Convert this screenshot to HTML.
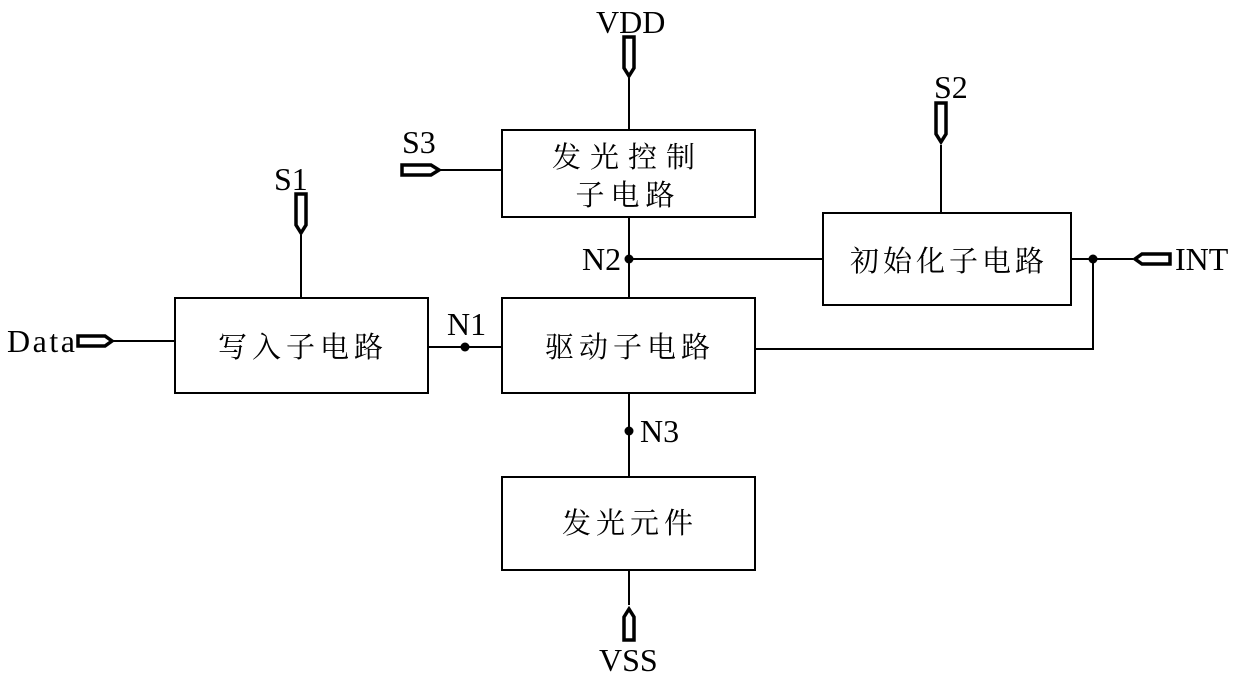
<!DOCTYPE html>
<html><head><meta charset="utf-8"><style>
html,body{margin:0;padding:0;background:#fff;}
svg{display:block}
text{font-family:"Liberation Serif","Noto Serif CJK SC",serif;fill:#000}
.cj{font-family:"Noto Serif CJK SC","Noto Sans CJK SC",serif;font-size:29px}
</style></head><body>
<svg width="1240" height="679" viewBox="0 0 1240 679">
<g fill="none" stroke="#000" stroke-width="2">
<rect x="502" y="130" width="253" height="87"/>
<rect x="823" y="213" width="248" height="92"/>
<rect x="175" y="298" width="253" height="95"/>
<rect x="502" y="298" width="253" height="95"/>
<rect x="502" y="477" width="253" height="93"/>
<path d="M629 78V130M629 217V298M629 393V477M629 570V605"/>
<path d="M440 170H502M941 145V213M301 235V298M113 341H175"/>
<path d="M428 347H502M629 259H823M1071 259H1133M1093 259V349H755"/>
</g>
<g fill="#fff" stroke="#000" stroke-width="3.5">
<path d="M624 37H634V68L629 76L624 68Z"/>
<path d="M936 103H946V134L941 142L936 134Z"/>
<path d="M296 194H306V225L301 233L296 225Z"/>
<path d="M624 640H634V617L629 609L624 617Z"/>
<path d="M402 165H431L439 170L431 175H402Z"/>
<path d="M78 336H105L112 341L105 346H78Z"/>
<path d="M1170 254H1142L1135 259L1142 264H1170Z"/>
</g>
<g fill="#000">
<circle cx="629" cy="259" r="4.5"/><circle cx="465" cy="347" r="4.5"/>
<circle cx="629" cy="431" r="4.5"/><circle cx="1093" cy="259" r="4.5"/>
</g>
<g font-size="32">
<text x="596" y="33">VDD</text>
<text x="402" y="153">S3</text>
<text x="934" y="98">S2</text>
<text x="274" y="190">S1</text>
<text x="7" y="352" textLength="68">Data</text>
<text x="447" y="335">N1</text>
<text x="582" y="270">N2</text>
<text x="640" y="442">N3</text>
<text x="1175" y="270">INT</text>
<text x="599" y="671">VSS</text>
</g>
<text class="cj" x="628" y="167" text-anchor="middle" letter-spacing="9">发光控制</text>
<text class="cj" x="628" y="205" text-anchor="middle" letter-spacing="6">子电路</text>
<text class="cj" x="949" y="271" text-anchor="middle" letter-spacing="4">初始化子电路</text>
<text class="cj" x="303" y="357" text-anchor="middle" letter-spacing="5">写入子电路</text>
<text class="cj" x="630" y="357" text-anchor="middle" letter-spacing="5">驱动子电路</text>
<text class="cj" x="630" y="533" text-anchor="middle" letter-spacing="5">发光元件</text>
</svg>
</body></html>
